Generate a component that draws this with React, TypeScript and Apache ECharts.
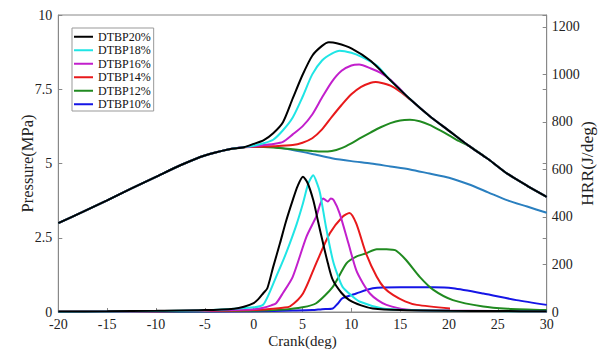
import React, { useEffect, useRef } from "react";
import * as echarts from "echarts";

// Crank angle range / ticks
const crankMin = -20;
const crankMax = 30;
const crankTicks = 5;
const pressureMax = 10;
const pressureTicks = 2.5;
const hrrMax = 1250;
const hrrTicks = 200;

const legendNames = ["DTBP20%", "DTBP18%", "DTBP16%", "DTBP14%", "DTBP12%", "DTBP10%"];

// Shared compression stroke (deg, MPa)
const compression: [number, number][] = [
  [-20, 2.99], [-17.5, 3.37], [-15, 3.76], [-12.5, 4.16], [-10, 4.55],
  [-7.5, 4.94], [-5, 5.27], [-2.5, 5.48], [-1, 5.55],
];

// Common expansion envelope after the peaks (deg, MPa)
const expansion: [number, number][] = [
  [18, 6.6], [20, 6.1], [22, 5.6], [24, 5.15], [26, 4.65], [28, 4.25], [30, 3.88],
];

// Pressure after -1 deg (deg, MPa)
const p20: [number, number][] = [
  [0, 5.66], [1, 5.78], [2, 6.02], [3, 6.39], [4, 7.19], [5, 7.98], [6, 8.63], [7, 8.96],
  [7.7, 9.08], [8.5, 9.05], [10, 8.88], [12, 8.45], [14, 7.8], [16, 7.17],
];
const p18: [number, number][] = [
  [0, 5.6], [1, 5.68], [2, 5.8], [3, 6.12], [4, 6.55], [5, 7.24], [6, 8.0], [7, 8.47],
  [8, 8.7], [8.8, 8.8], [10, 8.73], [11, 8.6], [12.6, 8.3], [14, 7.8], [16, 7.17],
];
const p16: [number, number][] = [
  [0, 5.58], [1, 5.62], [2, 5.66], [3, 5.73], [4, 5.98], [5, 6.25], [6, 6.65], [7, 7.22],
  [8, 7.75], [9, 8.12], [10, 8.3], [10.8, 8.33], [12, 8.2], [13, 8.05], [14, 7.82],
  [15, 7.5], [16, 7.17],
];
const p14: [number, number][] = [
  [0, 5.56], [2, 5.58], [4, 5.62], [5, 5.7], [6, 5.85], [7, 6.15], [8, 6.57], [9, 6.97],
  [10, 7.33], [11, 7.58], [12, 7.72], [12.5, 7.74], [13, 7.72], [14, 7.62], [15, 7.42],
  [16, 7.16], [17, 6.88],
];
const p12: [number, number][] = [
  [0, 5.56], [2, 5.54], [4, 5.48], [6, 5.42], [7, 5.4], [8, 5.42], [9, 5.52], [10, 5.68],
  [11, 5.87], [12, 6.05], [13, 6.22], [14, 6.36], [15, 6.45], [16, 6.47], [17, 6.42],
  [18, 6.3], [19, 6.13], [20, 5.95], [21, 5.76], [22, 5.6], [24, 5.15], [26, 4.65],
  [28, 4.25], [30, 3.88],
];
const p10: [number, number][] = [
  [0, 5.57], [1, 5.58], [2, 5.56], [4, 5.45], [6, 5.32], [8, 5.18], [10, 5.08], [12, 5.0],
  [14, 4.9], [16, 4.8], [18, 4.66], [20, 4.52], [22, 4.3], [24, 4.03], [26, 3.76],
  [28, 3.55], [30, 3.34],
];

// Heat release rate (deg, J/deg)
const h20: [number, number][] = [
  [-20, 2], [-15, 3], [-10, 5], [-5, 8], [-2, 14], [-1, 22], [0, 37], [0.5, 55], [1, 80],
  [1.4, 100], [2, 190], [2.7, 290], [3.3, 380], [4, 471], [4.5, 530], [5.05, 569],
  [5.5, 545], [6.1, 471], [6.6, 380], [7.1, 290], [7.6, 205], [8.1, 135], [9, 80],
  [9.8, 50], [11, 28], [12.2, 15], [15, 8], [20, 5], [25, 4], [30, 3],
];
const h18: [number, number][] = [
  [-20, 1], [-10, 4], [-5, 7], [0, 20], [0.95, 30], [1.5, 70], [2.3, 148], [3, 215],
  [3.7, 289], [4.4, 370], [5.05, 458], [5.6, 541], [6.1, 576], [6.5, 540], [6.8, 500],
  [7.4, 359], [8.1, 219], [8.6, 155], [9.1, 106], [10, 70], [10.9, 43], [13.2, 15],
  [16, 8], [20, 5], [30, 3],
];
const h16: [number, number][] = [
  [-20, 1], [-10, 3], [-5, 6], [0, 12], [1, 18], [1.8, 28], [2.3, 37], [3, 80], [4, 148],
  [5.4, 316], [6.4, 401], [7.1, 478], [7.4, 470], [7.6, 465], [7.9, 478], [8.2, 470],
  [8.8, 415], [9.7, 289], [10.5, 176], [11.2, 120], [11.9, 78], [12.7, 50], [13.6, 30],
  [15.6, 11], [20, 6], [30, 3],
];
const h14: [number, number][] = [
  [-20, 1], [-10, 3], [-5, 5], [0, 8], [2, 14], [3, 18], [3.7, 23], [5.05, 78],
  [6.4, 205], [7.8, 331], [9.1, 401], [9.8, 417], [10.5, 373], [11.5, 247], [12.6, 148],
  [13.4, 100], [14.3, 71], [15.5, 45], [16.7, 30], [20.1, 15],
];
const h12: [number, number][] = [
  [-20, 1], [-10, 2], [0, 5], [3, 10], [5, 20], [6.4, 37], [8.1, 106], [9.5, 205],
  [10.5, 233], [11.5, 247], [12.6, 264], [13.6, 264], [14.2, 262], [14.6, 258],
  [15.6, 219], [17, 148], [18.4, 93], [20.4, 50], [23.5, 23], [26, 14], [30, 8],
];
const h10: [number, number][] = [
  [-20, 0], [0, 3], [4, 6], [6, 8], [7, 12], [8.1, 15], [8.6, 35], [9.1, 58], [10.5, 78],
  [12.2, 100], [15, 104], [18.4, 104], [20.4, 100], [23.5, 78], [26.9, 50], [30, 30],
];

const colors: Record<string, string> = {
  "DTBP20%": "#000000",
  "DTBP18%": "#1fe5e5",
  "DTBP16%": "#c21fcc",
  "DTBP14%": "#e8191b",
  "DTBP12%": "#208a20",
  "DTBP10%": "#1515e6",
};
const basePressureColor = "#2a7fbf";

const FONT = "Liberation Serif";
const AXIS_COLOR = "#888888";

export default function App() {
  const ref = useRef<HTMLDivElement>(null);

  useEffect(() => {
    if (!ref.current) return;
    const chart = echarts.init(ref.current, undefined, { renderer: "svg" });

    const line = (name: string, data: [number, number][], color: string, yAxisIndex: number) => ({
      name,
      type: "line",
      data,
      yAxisIndex,
      smooth: 0.25,
      showSymbol: false,
      symbol: "none",
      lineStyle: { color, width: 2 },
      itemStyle: { color },
      z: 2,
    });

    const pressureSeries = [
      line("DTBP10%", [...compression, ...p10], basePressureColor, 0),
      line("DTBP12%", [...compression, ...p12], colors["DTBP12%"], 0),
      line("DTBP14%", [...compression, ...p14, ...expansion], colors["DTBP14%"], 0),
      line("DTBP16%", [...compression, ...p16, ...expansion], colors["DTBP16%"], 0),
      line("DTBP18%", [...compression, ...p18, ...expansion], colors["DTBP18%"], 0),
      line("DTBP20%", [...compression, ...p20, ...expansion], colors["DTBP20%"], 0),
    ];
    const hrrSeries = [
      line("DTBP10%", h10, colors["DTBP10%"], 1),
      line("DTBP12%", h12, colors["DTBP12%"], 1),
      line("DTBP14%", h14, colors["DTBP14%"], 1),
      line("DTBP16%", h16, colors["DTBP16%"], 1),
      line("DTBP18%", h18, colors["DTBP18%"], 1),
      line("DTBP20%", h20, colors["DTBP20%"], 1),
    ];

    const labelStyle = { color: "#222", fontFamily: FONT, fontSize: 14 };
    const axisLine = { show: true, onZero: false, lineStyle: { color: AXIS_COLOR, width: 1 } };
    const axisTick = { show: true, inside: true, length: 4, lineStyle: { color: AXIS_COLOR } };

    chart.setOption({
      animation: false,
      backgroundColor: "#ffffff",
      grid: {
        left: 58.3,
        right: 53.3,
        top: 15,
        bottom: 40,
        containLabel: false,
        outerBoundsMode: "none",
        show: true,
        borderColor: AXIS_COLOR,
        borderWidth: 1,
        backgroundColor: "transparent",
      },
      legend: {
        orient: "vertical",
        left: 72,
        top: 28,
        padding: [2, 3, 0, 2],
        itemGap: 0,
        itemWidth: 19,
        itemHeight: 2,
        icon: "rect",
        selectedMode: false,
        backgroundColor: "#ffffff",
        borderColor: "#999999",
        borderWidth: 1,
        textStyle: { fontFamily: FONT, fontSize: 12, color: "#111", lineHeight: 13.5 },
        data: legendNames.map((n) => ({ name: n, itemStyle: { color: colors[n] } })),
      },
      xAxis: {
        type: "value",
        min: crankMin,
        max: crankMax,
        interval: crankTicks,
        name: "Crank(deg)",
        nameLocation: "middle",
        nameGap: 21,
        nameMoveOverlap: false,
        nameTextStyle: { color: "#222", fontFamily: FONT, fontSize: 15 },
        axisLine,
        axisTick,
        axisLabel: { ...labelStyle, margin: 5 },
        splitLine: { show: false },
      },
      yAxis: [
        {
          type: "value",
          position: "left",
          min: 0,
          max: pressureMax,
          interval: pressureTicks,
          name: "Pressure(MPa)",
          nameLocation: "middle",
          nameRotate: 90,
          nameGap: 22,
          nameMoveOverlap: false,
          nameTextStyle: { color: "#222", fontFamily: FONT, fontSize: 16.5 },
          axisLine,
          axisTick,
          axisLabel: { ...labelStyle, margin: 6 },
          splitLine: { show: false },
        },
        {
          type: "value",
          position: "right",
          min: 0,
          max: hrrMax,
          interval: hrrTicks,
          name: "HRR(J/deg)",
          nameLocation: "middle",
          nameRotate: 90,
          nameGap: 31,
          nameMoveOverlap: false,
          nameTextStyle: { color: "#222", fontFamily: FONT, fontSize: 17.5 },
          axisLine,
          axisTick,
          axisLabel: {
            ...labelStyle,
            margin: 5,
            formatter: (v: number) => (v > 1200 ? "" : String(v)),
          },
          splitLine: { show: false },
        },
        {
          type: "value",
          position: "right",
          min: 0,
          max: pressureMax,
          interval: pressureTicks,
          axisLine: { show: false, onZero: false },
          axisTick,
          axisLabel: { show: false },
          splitLine: { show: false },
        },
      ],
      series: [...pressureSeries, ...hrrSeries],
    });

    return () => chart.dispose();
  }, []);

  return <div ref={ref} style={{ width: 600, height: 352, position: "absolute", left: 0, top: 0 }} />;
}
